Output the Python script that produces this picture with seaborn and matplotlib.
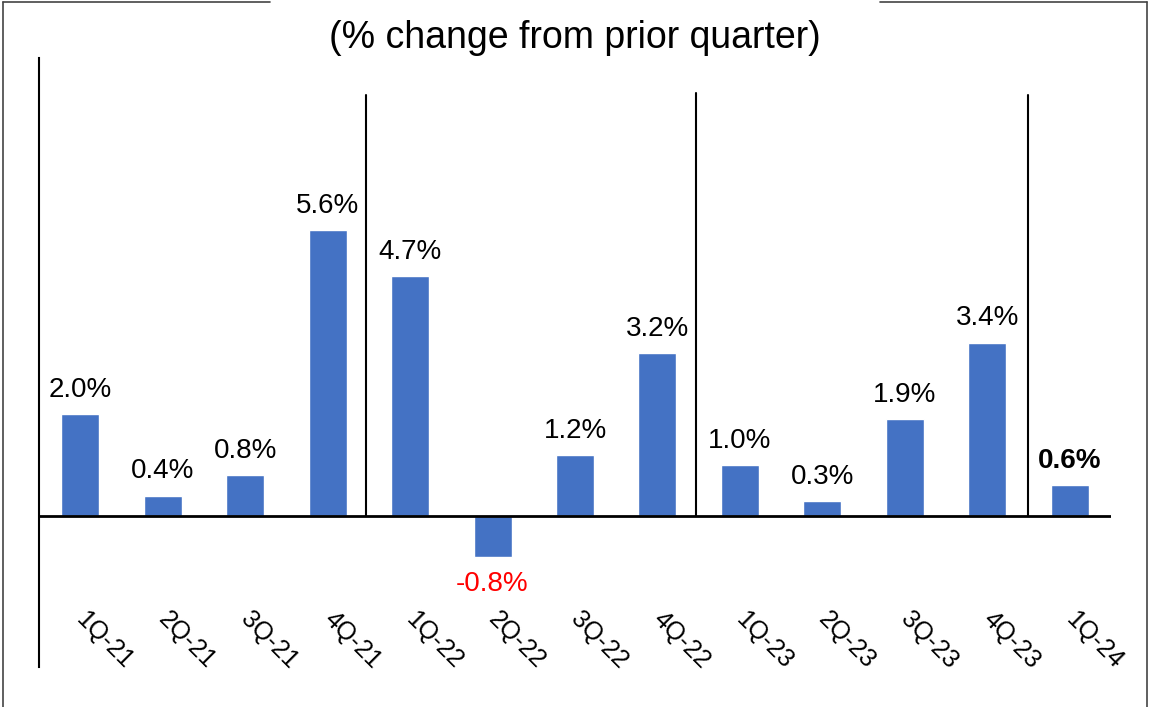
import matplotlib
matplotlib.use("Agg")
import matplotlib.pyplot as plt
import seaborn as sns
import pandas as pd
from matplotlib.lines import Line2D

quarters = ["1Q-21", "2Q-21", "3Q-21", "4Q-21", "1Q-22", "2Q-22", "3Q-22",
            "4Q-22", "1Q-23", "2Q-23", "3Q-23", "4Q-23", "1Q-24"]
values = [2.0, 0.4, 0.8, 5.6, 4.7, -0.8, 1.2, 3.2, 1.0, 0.3, 1.9, 3.4, 0.6]
title = "(% change from prior quarter)"

sns.set_theme(style="white")
plt.rcParams['font.family'] = ['Liberation Sans', 'DejaVu Sans']

df = pd.DataFrame({"quarter": quarters, "value": values})

fig = plt.figure(figsize=(11.52, 7.07), dpi=100)
ax = fig.add_axes([39/1152, 40/707, (1111-39)/1152, (667-58)/707])

sns.barplot(data=df, x="quarter", y="value", color="#4472C4", width=0.46,
            saturation=1, ax=ax)

ax.set_xlim(-0.5, 12.5)
ax.set_ylim(-2.96, 8.98)
for s in ["top", "right", "bottom"]:
    ax.spines[s].set_visible(False)
ax.spines["left"].set_color("black")
ax.spines["left"].set_linewidth(1.5)
ax.set_xticks([])
ax.set_yticks([])
ax.set_xlabel("")
ax.set_ylabel("")
ax.axhline(0, color="black", lw=2, zorder=3)

# year separators
for xs, top in [(3.464, 8.25), (7.464, 8.3), (11.49, 8.25)]:
    ax.plot([xs, xs], [0, top], color="black", lw=1.5, zorder=3)

for i, (q, v) in enumerate(zip(quarters, values)):
    if v >= 0:
        ax.text(i, v + 0.22, f"{v:.1f}%", ha="center", va="bottom", fontsize=20,
                color="black", fontweight="bold" if i == len(values) - 1 else "normal")
    else:
        ax.text(i, v - 0.27, f"{v:.1f}%", ha="center", va="top", fontsize=20,
                color="red")
    ax.text(i + 0.1, -1.78, q, ha="left", va="top", rotation=-45,
            rotation_mode="anchor", fontsize=18, color="black")

fig.text(575/1152, 1 - 38/707, title, ha="center", va="center", fontsize=27,
         color="black")

# frame around figure with gap for title
fy = 1 - 2/707
fx0 = 3/1152
fx1 = 1147/1152
kw = dict(color="#444444", lw=1.2, transform=fig.transFigure)
fig.add_artist(Line2D([fx0, 270/1152], [fy, fy], **kw))
fig.add_artist(Line2D([880/1152, fx1], [fy, fy], **kw))
fig.add_artist(Line2D([fx0, fx0], [0, fy], **kw))
fig.add_artist(Line2D([fx1, fx1], [0, fy], **kw))

fig.savefig("out.png", dpi=100, facecolor="white")
